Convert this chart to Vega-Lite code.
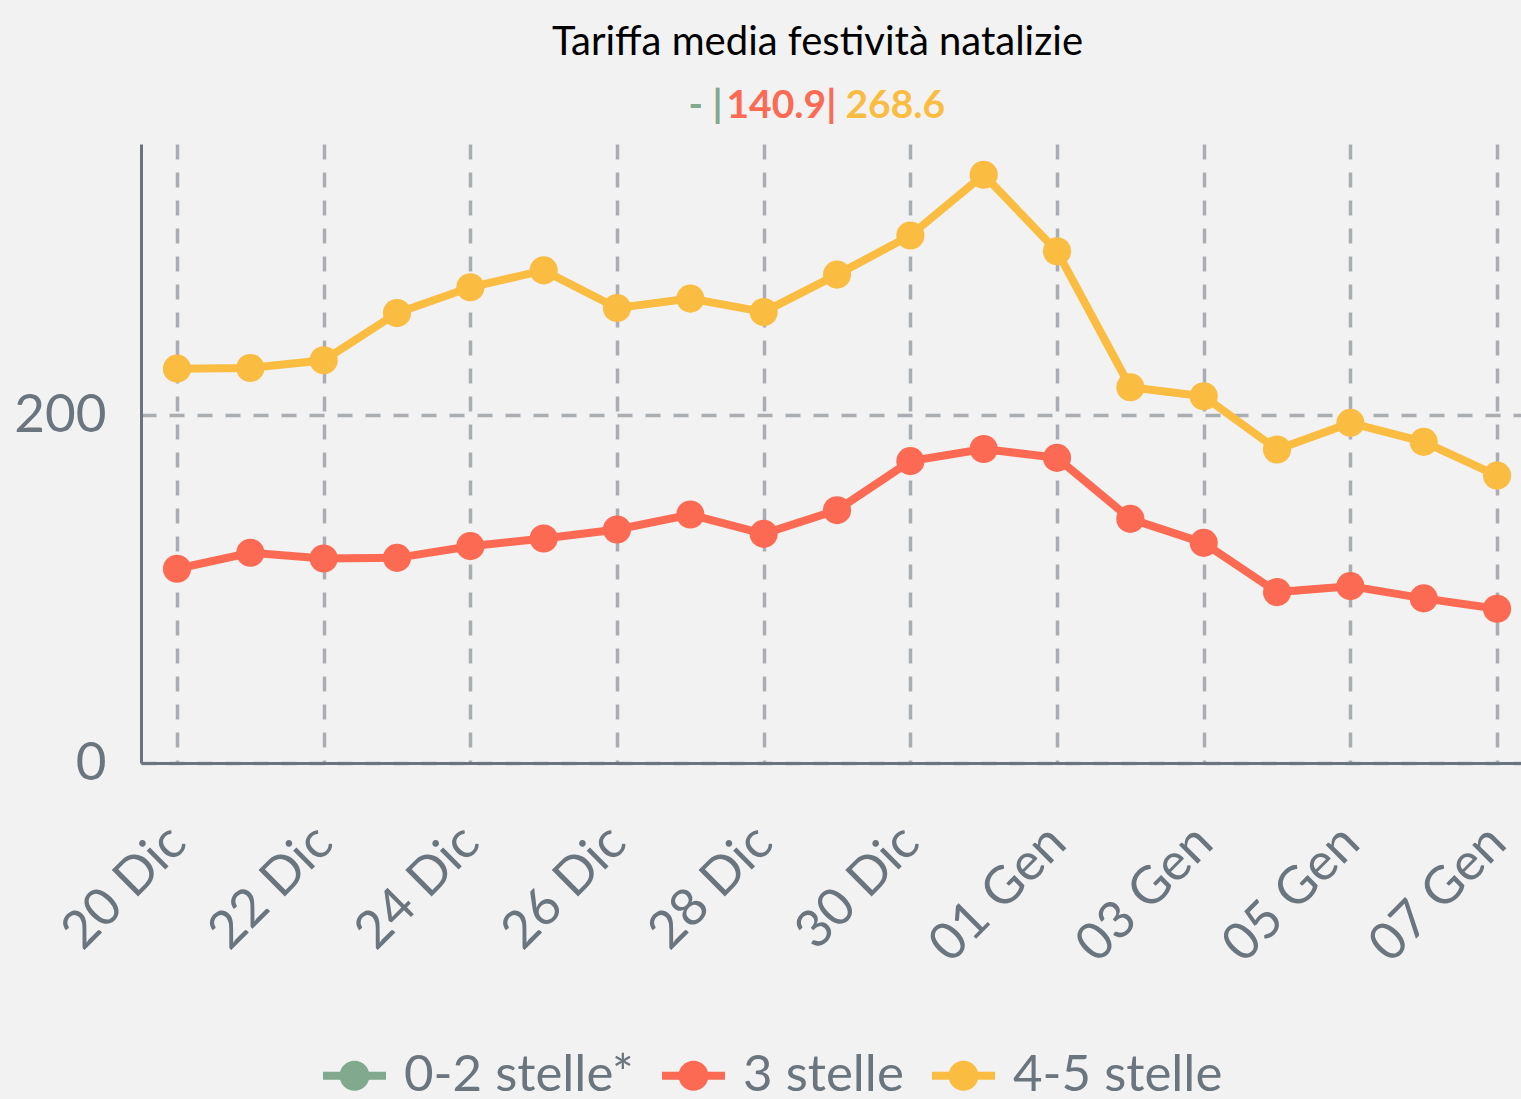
{
  "$schema": "https://vega.github.io/schema/vega-lite/v6.json",
  "background": "#f2f2f2",
  "padding": {"left": 13, "top": 22, "right": 0, "bottom": 10},
  "config": {"font": "Lato", "view": {"stroke": null}, "concat": {"spacing": 1}},
  "datasets": {
    "medie": [
      {"serie": "0-2 stelle*", "testo": "- |"},
      {"serie": "3 stelle", "testo": "140.9|"},
      {"serie": "4-5 stelle", "testo": "268.6"}
    ],
    "tariffe": [
      {"data": "2023-12-20", "serie": "3 stelle", "tariffa": 111.7},
      {"data": "2023-12-21", "serie": "3 stelle", "tariffa": 120.9},
      {"data": "2023-12-22", "serie": "3 stelle", "tariffa": 117.6},
      {"data": "2023-12-23", "serie": "3 stelle", "tariffa": 118.0},
      {"data": "2023-12-24", "serie": "3 stelle", "tariffa": 124.7},
      {"data": "2023-12-25", "serie": "3 stelle", "tariffa": 129.1},
      {"data": "2023-12-26", "serie": "3 stelle", "tariffa": 134.3},
      {"data": "2023-12-27", "serie": "3 stelle", "tariffa": 142.9},
      {"data": "2023-12-28", "serie": "3 stelle", "tariffa": 131.8},
      {"data": "2023-12-29", "serie": "3 stelle", "tariffa": 145.4},
      {"data": "2023-12-30", "serie": "3 stelle", "tariffa": 173.6},
      {"data": "2023-12-31", "serie": "3 stelle", "tariffa": 180.6},
      {"data": "2024-01-01", "serie": "3 stelle", "tariffa": 175.5},
      {"data": "2024-01-02", "serie": "3 stelle", "tariffa": 140.4},
      {"data": "2024-01-03", "serie": "3 stelle", "tariffa": 126.6},
      {"data": "2024-01-04", "serie": "3 stelle", "tariffa": 98.3},
      {"data": "2024-01-05", "serie": "3 stelle", "tariffa": 101.7},
      {"data": "2024-01-06", "serie": "3 stelle", "tariffa": 94.7},
      {"data": "2024-01-07", "serie": "3 stelle", "tariffa": 88.7},
      {"data": "2023-12-20", "serie": "4-5 stelle", "tariffa": 226.8},
      {"data": "2023-12-21", "serie": "4-5 stelle", "tariffa": 227.2},
      {"data": "2023-12-22", "serie": "4-5 stelle", "tariffa": 231.6},
      {"data": "2023-12-23", "serie": "4-5 stelle", "tariffa": 258.8},
      {"data": "2023-12-24", "serie": "4-5 stelle", "tariffa": 273.6},
      {"data": "2023-12-25", "serie": "4-5 stelle", "tariffa": 283.3},
      {"data": "2023-12-26", "serie": "4-5 stelle", "tariffa": 261.7},
      {"data": "2023-12-27", "serie": "4-5 stelle", "tariffa": 267.1},
      {"data": "2023-12-28", "serie": "4-5 stelle", "tariffa": 259.4},
      {"data": "2023-12-29", "serie": "4-5 stelle", "tariffa": 280.9},
      {"data": "2023-12-30", "serie": "4-5 stelle", "tariffa": 303.4},
      {"data": "2023-12-31", "serie": "4-5 stelle", "tariffa": 338.3},
      {"data": "2024-01-01", "serie": "4-5 stelle", "tariffa": 294.3},
      {"data": "2024-01-02", "serie": "4-5 stelle", "tariffa": 216.1},
      {"data": "2024-01-03", "serie": "4-5 stelle", "tariffa": 210.9},
      {"data": "2024-01-04", "serie": "4-5 stelle", "tariffa": 180.3},
      {"data": "2024-01-05", "serie": "4-5 stelle", "tariffa": 195.6},
      {"data": "2024-01-06", "serie": "4-5 stelle", "tariffa": 184.7},
      {"data": "2024-01-07", "serie": "4-5 stelle", "tariffa": 165.3}
    ]
  },
  "resolve": {"scale": {"color": "shared"}, "legend": {"color": "independent"}},
  "vconcat": [
    {
      "width": 1381,
      "height": 51,
      "title": {"text": "Tariffa media festività natalizie", "fontSize": 40, "font": "Lato", "fontWeight": "normal", "color": "#000000", "anchor": "middle", "dx": -14, "offset": 24},
      "data": {"name": "medie"},
      "layer": [
        {
          "transform": [{"filter": "datum.serie == '0-2 stelle*'"}],
          "mark": {"type": "text", "align": "left", "baseline": "alphabetic", "dx": -143, "fontSize": 39, "fontWeight": "bold"},
          "encoding": {"text": {"field": "testo"}, "color": {"field": "serie", "type": "nominal", "legend": null}}
        },
        {
          "transform": [{"filter": "datum.serie == '3 stelle'"}],
          "mark": {"type": "text", "align": "left", "baseline": "alphabetic", "dx": -105, "fontSize": 39, "fontWeight": "bold"},
          "encoding": {"text": {"field": "testo"}, "color": {"field": "serie", "type": "nominal", "legend": null}}
        },
        {
          "transform": [{"filter": "datum.serie == '4-5 stelle'"}],
          "mark": {"type": "text", "align": "left", "baseline": "alphabetic", "dx": 14, "fontSize": 39, "fontWeight": "bold"},
          "encoding": {"text": {"field": "testo"}, "color": {"field": "serie", "type": "nominal", "legend": null}}
        }
      ]
    },
    {
      "width": 1381,
      "height": 619,
      "data": {"name": "tariffe"},
      "encoding": {
        "x": {
          "field": "data",
          "type": "temporal",
          "scale": {
            "type": "utc",
            "domain": [
              {"year": 2023, "month": 12, "date": 19, "hours": 12, "minutes": 13, "utc": true},
              {"year": 2024, "month": 1, "date": 7, "hours": 8, "minutes": 10, "utc": true}
            ]
          },
          "axis": {
            "title": null,
            "values": [
              {"year": 2023, "month": 12, "date": 20, "utc": true},
              {"year": 2023, "month": 12, "date": 22, "utc": true},
              {"year": 2023, "month": 12, "date": 24, "utc": true},
              {"year": 2023, "month": 12, "date": 26, "utc": true},
              {"year": 2023, "month": 12, "date": 28, "utc": true},
              {"year": 2023, "month": 12, "date": 30, "utc": true},
              {"year": 2024, "month": 1, "date": 1, "utc": true},
              {"year": 2024, "month": 1, "date": 3, "utc": true},
              {"year": 2024, "month": 1, "date": 5, "utc": true},
              {"year": 2024, "month": 1, "date": 7, "utc": true}
            ],
            "labelExpr": "utcFormat(datum.value, '%d') + (utcmonth(datum.value) == 11 ? ' Dic' : ' Gen')",
            "grid": true,
            "gridDash": [15, 13],
            "gridColor": "#aaaeb3",
            "gridWidth": 3.5,
            "domainColor": "#6b747c",
            "domainWidth": 3,
            "ticks": false,
            "labelAngle": -45,
            "labelAlign": "right",
            "labelBaseline": "middle",
            "labelFontSize": 52,
            "labelColor": "#6b757e",
            "labelPadding": 71,
            "labelFlush": false,
            "labelOverlap": false
          }
        },
        "y": {
          "field": "tariffa",
          "type": "quantitative",
          "scale": {"domain": [0, 356], "nice": false},
          "axis": {
            "title": null,
            "values": [0, 200],
            "grid": true,
            "gridDash": [15, 13],
            "gridColor": "#aaaeb3",
            "gridWidth": 3.5,
            "domainColor": "#6b747c",
            "domainWidth": 3,
            "ticks": false,
            "labelFontSize": 53,
            "labelColor": "#6b757e",
            "labelPadding": 35
          }
        },
        "color": {
          "field": "serie",
          "type": "nominal",
          "scale": {"domain": ["0-2 stelle*", "3 stelle", "4-5 stelle"], "range": ["#80a98d", "#fc6a53", "#fabc41"]},
          "legend": {
            "title": null,
            "orient": "none",
            "legendX": 182,
            "legendY": 900,
            "direction": "horizontal",
            "labelFontSize": 51,
            "labelColor": "#6b757e",
            "labelLimit": 600,
            "symbolType": "M-1,-0.127L1,-0.127L1,0.127L-1,0.127Z M-0.476,0A0.476,0.476 0 1,1 0.476,0A0.476,0.476 0 1,1 -0.476,0Z",
            "symbolSize": 3969,
            "symbolStrokeWidth": 0,
            "columnPadding": 28,
            "labelOffset": 18,
            "encode": {"symbols": {"update": {"fill": {"scale": "color", "field": "value"}, "opacity": {"value": 1}}}}
          }
        }
      },
      "layer": [
        {"mark": {"type": "line", "strokeWidth": 8}},
        {"mark": {"type": "circle", "size": 790, "opacity": 1}}
      ]
    }
  ]
}
